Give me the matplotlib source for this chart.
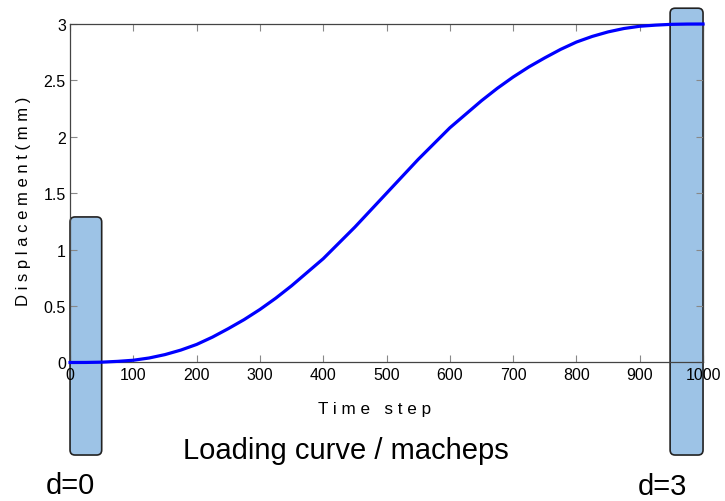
import matplotlib
matplotlib.use("Agg")
import matplotlib.pyplot as plt
from matplotlib.patches import FancyBboxPatch

plt.rcParams["font.family"] = ["Liberation Sans", "DejaVu Sans"]

# loading curve
time_step = [0, 25, 50, 75, 100, 125, 150, 175, 200, 225, 250, 275, 300, 325, 350,
             375, 400, 425, 450, 475, 500, 525, 550, 575, 600, 625, 650, 675, 700,
             725, 750, 775, 800, 825, 850, 875, 900, 925, 950, 975, 1000]
displacement = [0.0, 0.0005, 0.003, 0.01, 0.02, 0.04, 0.07, 0.11, 0.16, 0.225, 0.30,
                0.38, 0.47, 0.57, 0.68, 0.80, 0.92, 1.06, 1.20, 1.35, 1.50, 1.65,
                1.80, 1.94, 2.08, 2.20, 2.32, 2.43, 2.53, 2.62, 2.70, 2.775, 2.84,
                2.89, 2.93, 2.96, 2.98, 2.99, 2.997, 2.9995, 3.0]

x_ticks = [0, 100, 200, 300, 400, 500, 600, 700, 800, 900, 1000]
y_ticks = [0, 0.5, 1, 1.5, 2, 2.5, 3]

# highlighted regions (data coords: x0, x1, y0, y1) and their labels
regions = [(0, 50, -0.82, 1.29), (948, 1000, -0.82, 3.14)]
region_labels = ["d=0", "d=3"]

fig = plt.figure(figsize=(7.25, 5.02), dpi=100)
ax = fig.add_axes([0.0966, 0.2759, 0.8731, 0.6743])

ax.plot(time_step, displacement, color="#0000FF", lw=2.3, zorder=3, clip_on=False)

ax.set_xlim(0, 1000)
ax.set_ylim(0, 3)
ax.set_xticks(x_ticks)
ax.set_yticks(y_ticks)
ax.set_yticklabels(["0", "0.5", "1", "1.5", "2", "2.5", "3"])
ax.tick_params(direction="in", top=True, right=True, length=5, width=0.8,
               color="#888888", labelsize=11.5, pad=3)
for s in ax.spines.values():
    s.set_color("#444444")
    s.set_linewidth(0.9)

ax.set_xlabel("T i m e   s t e p", fontsize=12.3)
ax.xaxis.set_label_coords(0.481, -0.115)
ax.set_ylabel("D i s p l a c e m e n t ( m m )", fontsize=12)
ax.yaxis.set_label_coords(-0.062, 0.48)

# rounded boxes drawn in pixel space so the corners stay round
for (x0, x1, y0, y1) in regions:
    (px0, py0), (px1, py1) = ax.transData.transform([(x0, y0), (x1, y1)])
    box = FancyBboxPatch((px0, py0), px1 - px0, py1 - py0,
                         boxstyle="round,pad=0,rounding_size=5",
                         facecolor="#9DC3E6", edgecolor="#222222", lw=1.2,
                         transform=None, clip_on=False, zorder=1.5)
    ax.add_artist(box)

fig.text(346 / 725, 1 - 451 / 502, "Loading curve / macheps", fontsize=21,
         ha="center", va="center")
fig.text(70 / 725, 1 - 494 / 502, region_labels[0], fontsize=21, ha="center", va="baseline")
fig.text(662 / 725, 1 - 495 / 502, region_labels[1], fontsize=21, ha="center", va="baseline")

fig.savefig("out.png", dpi=100)
